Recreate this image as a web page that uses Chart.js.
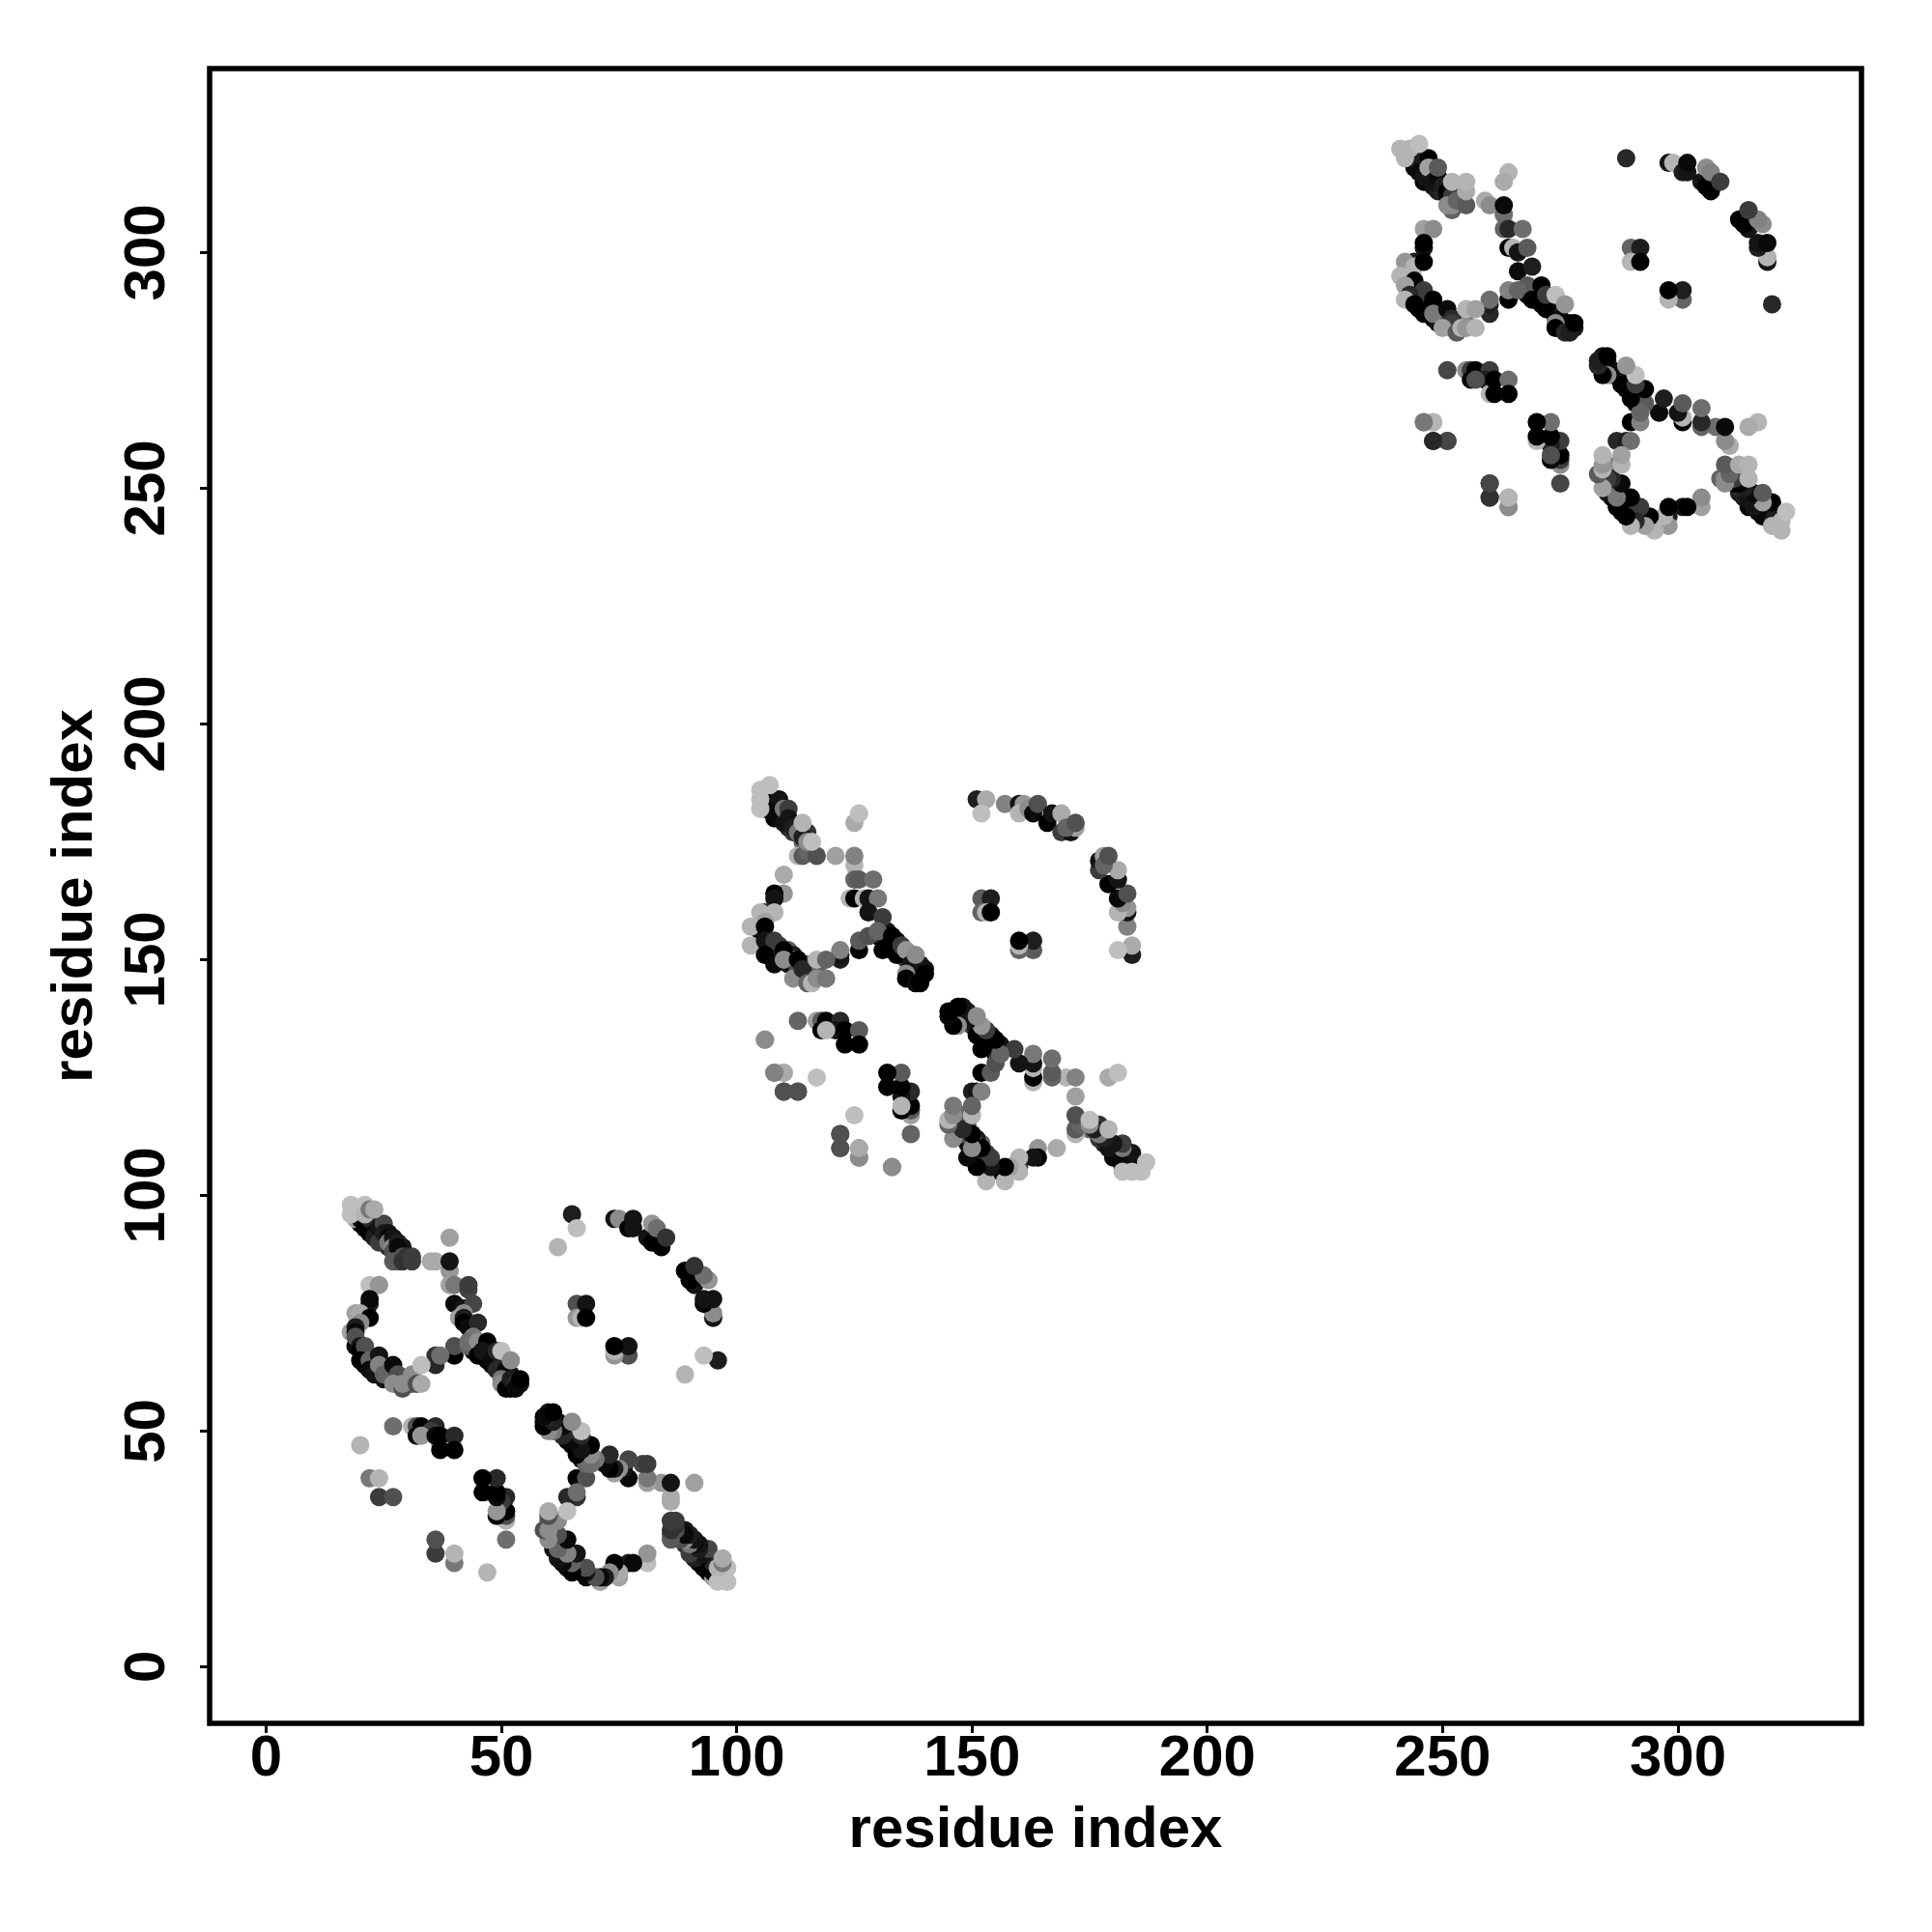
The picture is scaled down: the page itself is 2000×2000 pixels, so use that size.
<!DOCTYPE html>
<html>
<head>
<meta charset="utf-8">
<title>contact map</title>
<script src="https://cdn.jsdelivr.net/npm/chart.js@4"></script>
<style>
  body { margin: 0; background: #fff; }
</style>
</head>
<body>
<canvas id="contactMap" width="2000" height="2000"></canvas>
<script>
// [residue i, residue j, score] for i < j, the map is symmetric so j,i gets drawn too
const domainA = [
  [20,94,.95],[21,95,.9],[22,93,.9],[22,92,1],[23,94,.85],[24,92,.95],[24,91,.9],[25,91,.9],[25,90,.85],[26,89,.8],
  [27,90,.95],[28,88,.8],[29,88,.85],[29,89,.9],[28,87,.5],
  [19,68,.95],[21,66,.95],[21,65,.9],[21,64,1],[22,64,.9],[23,65,.7],[23,64,.95],[23,63,.8],[24,62,1],[24,63,.9],
  [25,64,.5],[25,63,.85],[25,61,.9],[26,63,.85],[26,62,.4],[26,61,.95],[27,62,.8],[27,61,.6],[28,60,.5],[29,61,.55],
  [30,60,.35],[30,61,.6],[31,60,.5],
  [44,68,.9],[44,67,.95],[45,68,.8],[46,66,.95],[46,68,.9],[47,67,.85],[47,65,.95],[48,66,.9],[48,64,1],[49,65,.9],
  [49,64,.85],[50,63,.9],[50,62,.7],[51,62,.8],[51,61,1],[51,60,1],[52,60,.95],[52,59,1],[52,62,.9],[53,61,.85],[54,60,.9],
  [19,95,.2],[20,96,.5],[20,95,.95],[21,94,.9],[21,93,1],[22,95,.8],[23,92,.95],[23,91,.85],[24,93,.9],[24,90,.7],
  [25,94,.65],[25,92,.85],[26,92,.9],[26,91,.95],[26,90,.4],[27,91,.9],[27,89,.3],[27,88,.6],[28,90,.85],[28,89,.95],
  [27,86,.55],[28,86,.55],[29,87,.6],[29,86,.75],[30,87,.75],[31,86,.7],[31,87,.7],
  [18,98,.05],[18,96,.05],[21,98,.05],[21,96,.1],[22,97,.4],[23,97,.15],
  [35,86,.15],[36,86,.15],[39,91,.2],[39,84,.25],[39,86,.9],[39,81,.2],[40,81,.4],[43,80,.65],[43,81,.7],
  [40,77,.95],[42,76,.9],[44,77,.65],[42,75,.3],[41,74,.2],[42,74,.85],[42,73,1],[43,72,.95],[45,73,.8],
  [40,66,1],[40,68,.6],[36,66,.75],[36,64,.8],[37,66,.45],
  [43,68,.5],[44,70,.4],[43,69,.45],[45,69,.3],[45,66,1],[47,69,1],[46,67,.9],[48,65,.95],[49,67,.8],[49,63,.8],
  [50,64,.8],[51,63,.95],[50,61,.4],[50,60,.3],[51,59,1],[52,61,.85],[53,60,.8],[53,59,.95],[50,67,.05],[52,65,.3],[54,61,1],
  [22,81,.05],[24,81,.25],[22,77,.85],[22,78,.95],[20,74,.75],[19,75,.2],[20,75,.15],[22,74,1],[20,73,.3],
  [18,71,.2],[19,72,.85],[19,71,.95],[19,70,.6],[20,68,.9],[20,67,1],[21,68,.6],[20,65,1],[22,65,.5],[22,63,.95],
  [24,66,.9],[23,62,.9],[24,64,.35],[25,62,.5],[27,64,.95],[28,61,.7],[28,62,.6],[27,60,.3],[29,59,.6],[29,60,.3],
  [31,62,.3],[33,64,.05],[32,60,.6],[33,60,.15],
  [27,51,.45],[31,51,.1],[32,51,.6],[33,51,1],[36,51,.8],[35,50,.7],[32,49,.95],[33,49,.25],[37,47,.25],[36,49,.95],
  [37,49,1],[40,49,.8],[37,46,1],[40,46,1],[20,47,.1],[22,40,.4],[24,40,.1],[24,36,.7],[27,36,.6],
  [65,96,.85],[66,93,.05],[62,89,.1],[66,77,.6],[66,74,.25],[67,74,.1],[68,77,.9],[68,74,1],
  [74,95,.9],[75,95,.3],[77,93,1],[78,93,.9],[78,95,.9],[81,91,.9],[82,90,1],[84,89,1],[82,94,.25],[83,93,.45],[85,91,.75]
];

const domainB = [
  [106,182,.95],[107,184,.85],[108,182,.9],[108,180,.95],[109,182,.8],[110,181,.95],[110,180,.85],[111,179,.9],[111,178,.8],
  [112,177,.75],[113,178,.9],[114,176,.8],[115,176,.85],[115,177,.75],[114,175,.5],
  [105,156,.95],[107,154,.9],[107,153,.95],[107,152,1],[108,152,.9],[109,153,.7],[109,152,.95],[109,151,.8],[110,151,.9],
  [111,152,.5],[111,151,.85],[111,149,.9],[112,151,.85],[112,150,.4],[112,149,.95],[113,149,.8],[113,148,.6],[114,148,.5],
  [115,149,.55],[116,148,.35],[116,149,.6],[117,148,.5],
  [130,156,.9],[130,155,.95],[131,155,.8],[132,154,.95],[132,156,.9],[133,153,.85],[133,152,.95],[134,154,.9],[134,152,1],
  [135,152,.9],[135,151,.85],[136,151,.9],[136,150,.7],[137,150,.8],[137,148,1],[137,147,1],[138,148,.95],[138,146,1],
  [138,150,.9],[139,149,.85],[140,148,.9],
  [106,184,.8],[107,183,.9],[108,184,.95],[109,184,.9],[108,181,.95],[110,179,.9],[110,182,.4],[111,182,.7],[111,180,.9],
  [112,178,.85],[113,177,.4],[114,176,.85],[113,172,.1],[114,172,.55],[115,173,.5],[117,172,.6],[115,175,.3],
  [105,186,.05],[105,184,.05],[105,182,.05],[107,187,.05],[114,179,.1],[116,175,.05],
  [121,172,.2],[125,170,.1],[125,172,.35],[125,179,.15],[126,181,.05],[125,167,.5],[126,167,.55],[129,167,.45],
  [124,163,.1],[125,163,1],[127,163,.1],[128,163,.9],[130,163,.4],[128,160,.9],[131,159,.7],
  [126,152,1],[126,154,.55],[122,150,.85],[122,151,.9],[122,152,.35],
  [128,155,.6],[130,156,.5],[131,152,1],[133,155,1],[134,151,1],[135,153,.7],[136,152,.25],[137,149,.9],
  [136,147,.3],[136,146,1],[138,145,.95],[139,145,1],[138,151,.3],[140,147,1],
  [110,168,.15],[110,164,.25],[108,164,1],[108,163,.9],[106,160,.8],[105,160,.1],[108,160,.1],[106,158,.2],
  [103,157,.1],[103,153,.1],[106,157,1],[106,154,.9],[108,154,.7],[106,151,1],[108,149,.95],[110,152,1],
  [110,150,.3],[112,146,.3],[113,150,1],[114,148,.8],[115,145,.5],[116,145,.1],[117,146,.3],[117,150,.1],[119,150,.5],[119,146,.4],
  [113,137,.5],[117,137,.2],[118,137,.55],[119,137,1],[122,137,.8],[121,135,.9],[118,135,1],[119,135,.1],[123,135,1],
  [126,135,.55],[123,132,1],[126,132,1],[106,133,.3],[108,126,.3],[110,126,.15],[110,122,.6],[113,122,.6],[117,125,.05],
  [122,113,.6],[122,110,.6],[126,110,.15],[126,108,.35],[133,106,.3],
  [151,184,.85],[153,184,.15],[152,181,.05],[152,163,.55],[154,163,.85],[152,160,.5],[153,160,.1],[154,160,1],
  [157,183,.35],[160,183,.9],[161,183,.25],[160,181,.1],[162,182,.3],[163,181,.95],[164,183,.6],[166,179,1],[167,181,.9],
  [169,181,.15],[169,177,.7],[171,177,.9],[172,178,.2],[170,178,.5],[172,179,.6]
];

const domainC = [
  [244,318,.95],[245,319,.9],[246,317,.9],[246,315,1],[247,317,.85],[248,316,.95],[248,314,.9],[249,314,.9],[249,313,.85],
  [250,313,.8],[251,312,.95],[252,311,.8],[253,312,.85],[253,313,.9],[252,309,.5],
  [243,292,.95],[245,290,.95],[245,289,.9],[245,288,1],[246,288,.9],[247,289,.7],[247,288,.95],[247,287,.8],[248,286,1],
  [248,288,.9],[249,288,.5],[249,287,.85],[249,285,.9],[250,287,.85],[250,286,.4],[250,285,.95],[251,286,.8],[251,285,.6],
  [252,284,.5],[253,285,.55],[254,285,.6],[255,285,.35],
  [268,292,.9],[268,291,.95],[269,292,.8],[270,290,.95],[270,292,.9],[271,291,.85],[271,289,.95],[272,290,.9],[272,289,1],
  [273,289,.9],[273,288,.85],[274,287,.9],[274,286,.7],[275,286,.8],[275,285,1],[275,284,1],[276,284,.95],[276,285,.9],
  [277,285,.85],[278,284,.9],
  [244,320,.8],[245,320,.85],[245,317,.95],[246,316,.9],[247,320,1],[247,318,.2],[248,315,.9],[249,316,.95],[249,318,.55],
  [250,314,.85],[251,313,1],[252,312,.7],[251,310,.3],[252,310,.3],[253,311,.5],[255,310,.55],
  [241,322,.1],[243,322,.1],[242,321,.1],[242,320,.1],[245,323,.05],[252,315,.1],[255,313,.15],[255,315,.1],
  [259,311,.15],[260,310,.3],[264,317,.1],[263,315,.15],[263,308,.45],[263,310,.95],[263,305,.5],[264,305,.8],[267,305,.45],
  [264,301,1],[265,301,.1],[266,300,.9],[268,301,.55],[266,296,.95],[269,297,.85],
  [264,290,1],[264,292,.35],[260,287,.8],[260,289,.85],[260,290,.45],
  [268,293,.55],[266,292,.5],[269,290,1],[271,293,1],[272,288,1],[272,291,.7],[274,291,.05],[275,286,.95],
  [274,285,.3],[274,284,1],[276,283,.8],[277,283,.85],[276,289,.25],[278,285,1],
  [246,305,.2],[248,305,.3],[246,301,.9],[246,302,1],[244,298,.85],[242,298,.25],[244,297,.1],[246,298,1],
  [241,295,.1],[244,294,1],[242,293,.2],[246,292,.7],[243,291,.8],[242,290,.1],[244,289,1],[248,290,1],[246,287,1],
  [248,287,.4],[251,288,.95],[252,286,.8],[252,285,.7],[250,284,.2],[253,283,.55],[254,284,.1],[255,284,.25],[257,284,.1],[255,288,.1],[257,288,.2],
  [251,275,.65],[255,275,.3],[256,275,.7],[257,275,1],[260,275,.7],[259,273,.85],[256,273,.95],[257,273,.6],[260,270,.1],
  [261,273,1],[264,273,.45],[261,270,1],[264,270,1],[246,264,.3],[248,264,.1],[248,260,.75],[251,260,.65],
  [260,251,.65],[260,248,.8],[264,248,.1],[264,246,.4],
  [289,320,.8],[290,301,.5],[292,301,.85],[290,298,.1],[292,298,1],
  [298,319,.9],[299,319,.1],[301,317,.85],[302,317,.9],[302,319,.95],[305,315,.9],[306,314,1],[307,313,1],
  [306,318,.3],[307,317,.35],[309,315,.7]
];

const tickValues = [0, 50, 100, 150, 200, 250, 300];
const axisLabel = 'residue index';

const labelFont = { family: '"Liberation Sans", Arial, sans-serif', size: 60, weight: 'bold' };

// score -> grey, 1 is black and 0 is the palest grey of the map
function shade(score) {
  const g = Math.round(200 * (1 - score));
  return `rgb(${g},${g},${g})`;
}

function buildDataset(contacts) {
  const mirrored = contacts.map(c => [c[1], c[0], c[2]]);
  const all = contacts.concat(mirrored);
  return {
    data: all.map(c => ({ x: c[0], y: c[1] })),
    pointBackgroundColor: all.map(c => shade(c[2])),
    pointBorderWidth: 0,
    pointRadius: 9.5,
    showLine: false
  };
}

// frame around the plot and the rotated y labels
const framePlugin = {
  id: 'frame',
  afterDraw(chart) {
    const { ctx, chartArea: a, scales } = chart;
    ctx.save();
    ctx.strokeStyle = '#000';
    ctx.lineWidth = 5.5;
    ctx.strokeRect(a.left, a.top, a.right - a.left, a.bottom - a.top);
    ctx.fillStyle = '#000';
    ctx.font = `${labelFont.weight} ${labelFont.size}px ${labelFont.family}`;
    ctx.textAlign = 'center';
    ctx.textBaseline = 'alphabetic';
    tickValues.forEach(v => {
      ctx.save();
      ctx.translate(170, scales.y.getPixelForValue(v));
      ctx.rotate(-Math.PI / 2);
      ctx.fillText(String(v), 0, 0);
      ctx.restore();
    });
    ctx.restore();
  }
};

function axisOptions(extra) {
  return Object.assign({
    type: 'linear',
    min: -12,
    max: 339,
    afterBuildTicks(scale) {
      scale.ticks = tickValues.map(v => ({ value: v }));
    },
    border: { display: false },
    grid: { drawOnChartArea: false, drawTicks: true, tickLength: 10, tickColor: '#000', tickWidth: 3 }
  }, extra);
}

new Chart(document.getElementById('contactMap'), {
  type: 'scatter',
  data: { datasets: [buildDataset(domainA), buildDataset(domainB), buildDataset(domainC)] },
  options: {
    responsive: false,
    animation: false,
    layout: { padding: { top: 71, right: 73 } },
    plugins: { legend: { display: false }, tooltip: { enabled: false } },
    scales: {
      x: axisOptions({
        ticks: { color: '#000', font: labelFont, padding: -9, autoSkip: false, maxRotation: 0 },
        title: { display: true, text: axisLabel, color: '#000', font: labelFont, padding: { top: 4, bottom: 69 } },
        afterFit(scale) { scale.height = 216; }
      }),
      y: axisOptions({
        ticks: { display: false },
        title: { display: true, text: axisLabel, color: '#000', font: labelFont, padding: { top: 42, bottom: 4 } },
        afterFit(scale) { scale.width = 217; }
      })
    }
  },
  plugins: [framePlugin]
});
</script>
</body>
</html>
